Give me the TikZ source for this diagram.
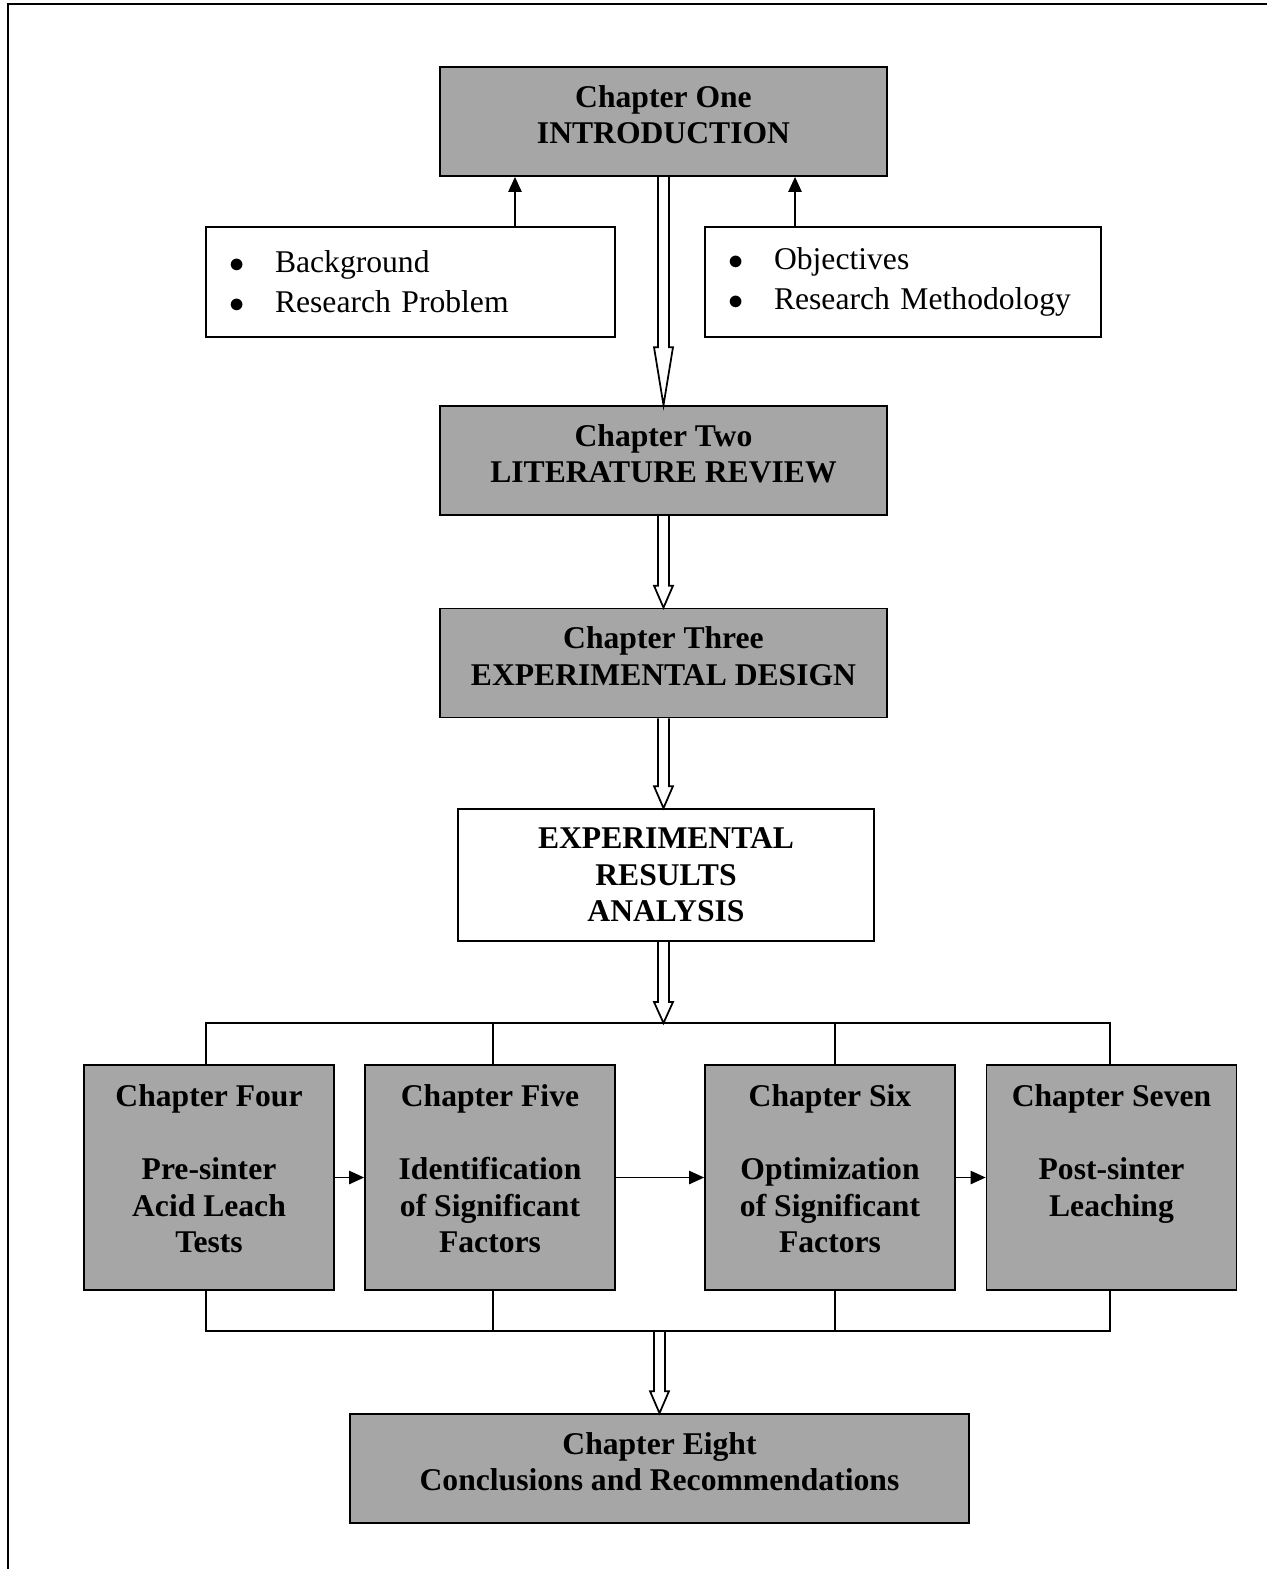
\documentclass[tikz,border=0pt]{standalone}
\usepackage{fontspec}
\setmainfont{Liberation Serif}
\usetikzlibrary{arrows.meta, positioning, calc}
\definecolor{ChapGray}{HTML}{A6A6A6}
\tikzset{
  chapbox/.style={rectangle, draw=black, fill=ChapGray, line width=1pt, minimum width=8.94cm, minimum height=2.18cm, text depth=0.28cm, font=\fontsize{18}{20.6}\selectfont\bfseries, align=center},
  bulletbox/.style={rectangle, draw=black, fill=white, line width=1pt, text width=#1, minimum height=2.2cm, inner xsep=0.46cm, font=\fontsize{18}{22.7}\selectfont, align=left},
  bulletbox/.default=7.26cm,
  resultbox/.style={chapbox, fill=white, minimum width=8.32cm, minimum height=2.64cm, text depth=0pt, font=\fontsize{18}{20.8}\selectfont\bfseries},
  partbox/.style={chapbox, minimum width=5cm, minimum height=4.5cm, text depth=0.36cm, font=\fontsize{18}{20.8}\selectfont\bfseries},
  finalbox/.style={chapbox, minimum width=12.38cm},
  arrow/.style={-{Triangle[length=8.5pt,width=7.5pt]}, line width=1pt},
  busline/.style={line width=1pt},
  blockline/.style={line width=1pt, line join=miter}
}
\newcommand{\blt}{\makebox[0.92cm][l]{$\bullet$}}
% hollow block arrow: from #1 to #2, head length #3 (px)
\newcommand{\blockarrow}[3]{%
  \draw[blockline] ($(#1)+(-5.5,0)$) -- ($(#2)+(-5.5,-#3)$) -- ($(#2)+(-9.5,-#3)$) -- (#2)
    -- ($(#2)+(9.5,-#3)$) -- ($(#2)+(5.5,-#3)$) -- ($(#1)+(5.5,0)$);}

\begin{document}
\begin{tikzpicture}[x=0.02cm, y=-0.02cm]
  \useasboundingbox (0,0) rectangle (1267,1569);
  % page frame
  \draw[line width=1.7pt] (8,1569) -- (8,4) -- (1267,4);

  % Chapter one
  \node[chapbox] (c1) at (663.5,121.5) {Chapter One\\INTRODUCTION};
  \node[bulletbox] (bg) at (410.5,282) {\blt Background\\\blt Research Problem};
  \node[bulletbox=6.999cm] (obj) at (903,282) {\blt Objectives\\\blt Research Methodology};
  \coordinate (bgtop) at ([xshift=2.09cm]bg.north);
  \coordinate (objtop) at ([xshift=-2.16cm]obj.north);
  \draw[arrow] (bgtop) -- (bgtop |- c1.south);
  \draw[arrow] (objtop) -- (objtop |- c1.south);

  % Chapters two and three
  \node[chapbox] (c2) at (663.5,460.5) {Chapter Two\\LITERATURE REVIEW};
  \node[chapbox] (c3) at (663.5,663) {Chapter Three\\EXPERIMENTAL DESIGN};
  \node[resultbox] (res) at (666,875) {EXPERIMENTAL\\RESULTS\\ANALYSIS};

  \blockarrow{c1.south}{c2.north}{58}
  \blockarrow{c2.south}{c3.north}{22}
  \blockarrow{c3.south}{c3.south |- res.north}{22}

  % Chapters four to seven
  \node[partbox] (c4) at (209,1177.5) {Chapter Four\\~\\Pre-sinter\\Acid Leach\\Tests};
  \node[partbox] (c5) at (490,1177.5) {Chapter Five\\~\\Identification\\of Significant\\Factors};
  \node[partbox] (c6) at (830,1177.5) {Chapter Six\\~\\Optimization\\of Significant\\Factors};
  \node[partbox] (c7) at (1111.5,1177.5) {Chapter Seven\\~\\Post-sinter\\Leaching\\~};

  \draw[arrow] (c4.east) -- (c5.west);
  \draw[arrow] (c5.east) -- (c6.west);
  \draw[arrow] (c6.east) -- (c7.west);

  \coordinate (topbus) at (663.5,1023);
  \coordinate (botbus) at (663.5,1331);
  \coordinate (t4) at ([xshift=-0.06cm]c4.north);
  \coordinate (t5) at ([xshift=0.06cm]c5.north);
  \coordinate (t6) at ([xshift=0.1cm]c6.north);
  \coordinate (t7) at ([xshift=-0.03cm]c7.north);
  \coordinate (b4) at ([xshift=-0.06cm]c4.south);
  \coordinate (b5) at ([xshift=0.06cm]c5.south);
  \coordinate (b6) at ([xshift=0.1cm]c6.south);
  \coordinate (b7) at ([xshift=-0.03cm]c7.south);
  \draw[busline] (t4) -- (t4 |- topbus) -- (t7 |- topbus) -- (t7);
  \draw[busline] (t5) -- (t5 |- topbus);
  \draw[busline] (t6) -- (t6 |- topbus);
  \draw[busline] (b4) -- (b4 |- botbus) -- (b7 |- botbus) -- (b7);
  \draw[busline] (b5) -- (b5 |- botbus);
  \draw[busline] (b6) -- (b6 |- botbus);
  \blockarrow{topbus |- res.south}{topbus}{21}

  % Chapter eight
  \node[finalbox] (c8) at (659.5,1468.5) {Chapter Eight\\Conclusions and Recommendations};
  \blockarrow{c8.north |- botbus}{c8.north}{22}
\end{tikzpicture}
\end{document}
